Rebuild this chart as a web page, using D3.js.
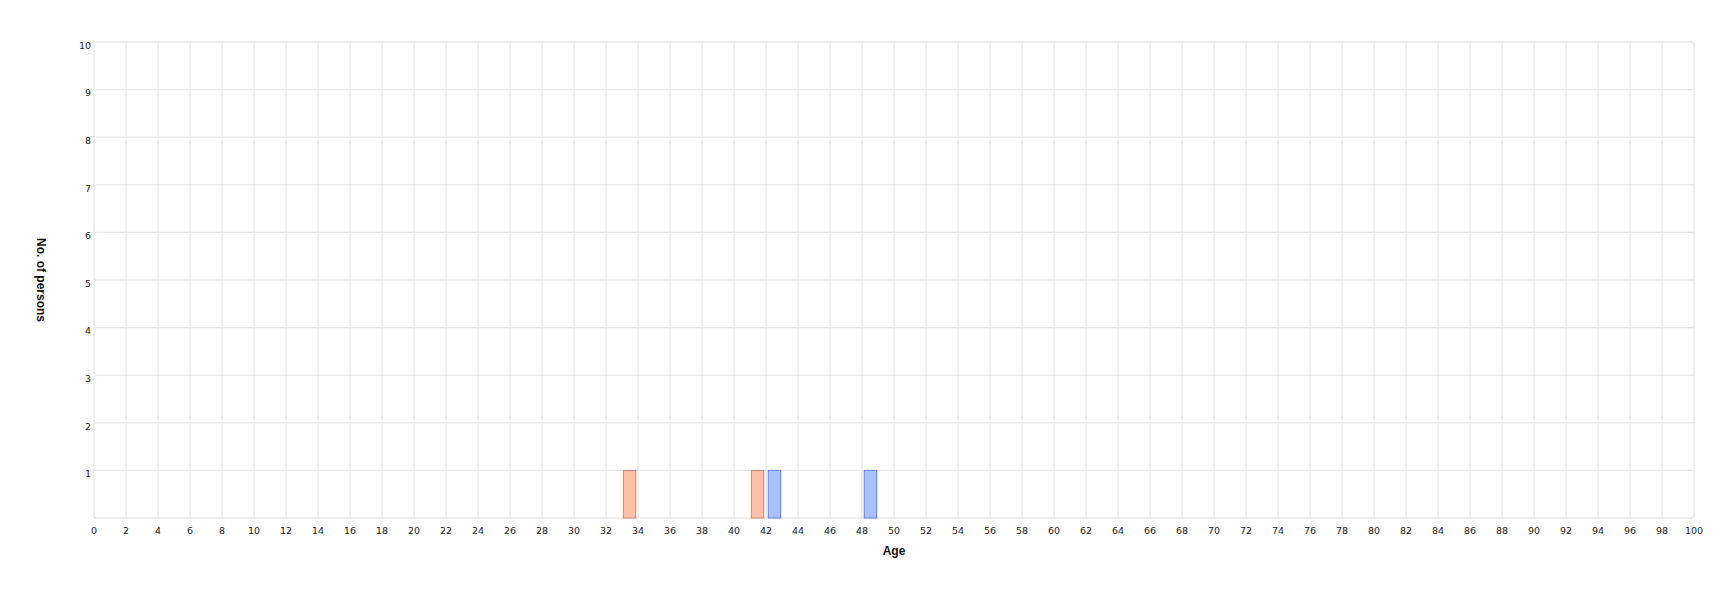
<!DOCTYPE html>
<html>
<head>
<meta charset="utf-8">
<script src="https://cdn.jsdelivr.net/npm/d3@7/dist/d3.min.js"></script>
<style>
  html, body { margin: 0; padding: 0; background: #ffffff; }
  svg { display: block; }
</style>
</head>
<body>
<svg id="chart" width="1734" height="594"></svg>
<script>
// ---- data ----
const seriesNames = ["Female", "Male"];
const femaleAges = [33, 41];
const femaleCounts = [1, 1];
const maleAges = [42, 48];
const maleCounts = [1, 1];
const xTicks = d3.range(0, 101, 2);
const yTicks = [1, 2, 3, 4, 5, 6, 7, 8, 9, 10];
const xTitle = "Age";
const yTitle = "No. of persons";

// ---- layout ----
const W = 1734, H = 594;
const m = { left: 94, right: 40, top: 42, bottom: 76 };
const svg = d3.select("#chart");

const x = d3.scaleLinear().domain([0, 100]).range([m.left, W - m.right]);
const y = d3.scaleLinear().domain([0, 10]).range([H - m.bottom, m.top]);

const gridColor = "#e6e6e6";
const g = svg.append("g");

// vertical grid
g.selectAll("line.vg").data(xTicks).enter().append("line")
  .attr("x1", d => x(d)).attr("x2", d => x(d))
  .attr("y1", y(0)).attr("y2", y(10))
  .attr("stroke", gridColor).attr("stroke-width", 1.3);

// horizontal grid
g.selectAll("line.hg").data([0].concat(yTicks)).enter().append("line")
  .attr("x1", x(0)).attr("x2", x(100))
  .attr("y1", d => y(d)).attr("y2", d => y(d))
  .attr("stroke", gridColor).attr("stroke-width", 1.3);

// bars
const series = [
  { name: seriesNames[0], ages: femaleAges, counts: femaleCounts, fill: "#ffc1a9", stroke: "#c98673", off0: 0.08, off1: 0.86 },
  { name: seriesNames[1], ages: maleAges, counts: maleCounts, fill: "#a9c1ff", stroke: "#6a82cc", off0: 0.14, off1: 0.92 }
];
series.forEach(s => {
  const data = s.ages.map((a, i) => ({ age: a, n: s.counts[i] }));
  g.selectAll(null).data(data).enter().append("rect")
    .attr("x", d => x(d.age + s.off0))
    .attr("width", d => x(d.age + s.off1) - x(d.age + s.off0))
    .attr("y", d => y(d.n))
    .attr("height", d => y(0) - y(d.n))
    .attr("fill", s.fill)
    .attr("stroke", s.stroke)
    .attr("stroke-width", 1);
});

// y tick labels
g.selectAll("text.yt").data(yTicks).enter().append("text")
  .attr("x", x(0) - 3)
  .attr("y", d => y(d) + 3.5)
  .attr("dy", "0.35em")
  .attr("text-anchor", "end")
  .attr("font-family", "DejaVu Sans, sans-serif")
  .attr("font-size", 9.5)
  .attr("fill", "#222")
  .text(d => d);

// x tick labels
g.selectAll("text.xt").data(xTicks).enter().append("text")
  .attr("x", d => x(d))
  .attr("y", y(0) + 12.5)
  .attr("dy", "0.35em")
  .attr("text-anchor", "middle")
  .attr("font-family", "DejaVu Sans, sans-serif")
  .attr("font-size", 9.5)
  .attr("fill", "#222")
  .text(d => d);

// axis titles
svg.append("text")
  .attr("x", (x(0) + x(100)) / 2)
  .attr("y", 551)
  .attr("dy", "0.35em")
  .attr("text-anchor", "middle")
  .attr("font-family", "Liberation Sans, Arial, sans-serif")
  .attr("font-weight", "bold")
  .attr("font-size", 12)
  .attr("fill", "#111")
  .text(xTitle);

svg.append("text")
  .attr("transform", `translate(41, ${(y(0) + y(10)) / 2}) rotate(90)`)
  .attr("dy", "0.35em")
  .attr("text-anchor", "middle")
  .attr("font-family", "Liberation Sans, Arial, sans-serif")
  .attr("font-weight", "bold")
  .attr("font-size", 12)
  .attr("fill", "#111")
  .text(yTitle);
</script>
</body>
</html>
